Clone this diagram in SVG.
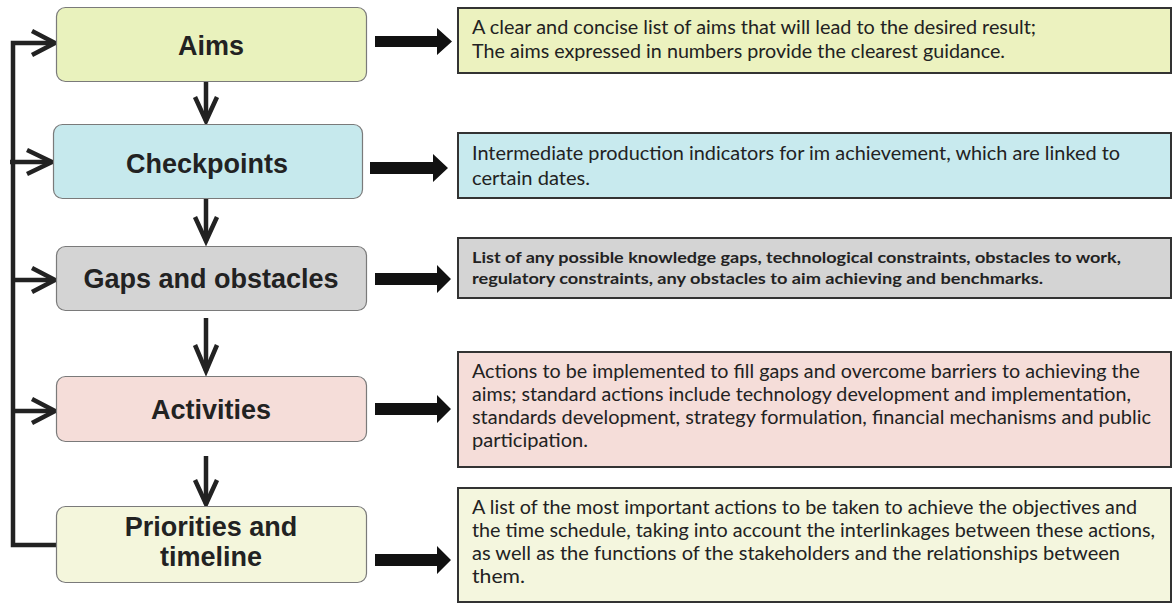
<svg xmlns="http://www.w3.org/2000/svg" width="1172" height="603" viewBox="0 0 1172 603">
<style>
.nbox{stroke:#7a7a7a;stroke-width:1.2}
.ntxt{font-family:"Liberation Sans",Arial,sans-serif;font-weight:bold;font-size:27px;fill:#222;text-anchor:middle}
.dbox{stroke:#333;stroke-width:2}
.dtxt{font-family:Lato,"Noto Sans",sans-serif;font-size:18.5px;fill:#222}
.dtxtb{font-family:Lato,"Noto Sans",sans-serif;font-size:15px;font-weight:bold;fill:#222}
.ln{fill:none;stroke:#222;stroke-width:4.5;stroke-linecap:butt;stroke-linejoin:miter}
.blk{fill:#111}
</style>
<rect width="1172" height="603" fill="#fff"/>
<g id="connectors">
  <polyline class="ln" points="56,545 13,545 13,43 53,43"/>
  <polyline class="ln" points="32,31 55,43 32,55"/>
  <line class="ln" x1="10" y1="162" x2="50" y2="162"/>
  <polyline class="ln" points="27,150 52,162 27,174"/>
  <line class="ln" x1="13" y1="280" x2="54" y2="280"/>
  <polyline class="ln" points="32,268 55,280 32,292"/>
  <line class="ln" x1="13" y1="411" x2="54" y2="411"/>
  <polyline class="ln" points="32,399 55,411 32,423"/>
  <line class="ln" x1="206" y1="82" x2="206" y2="121"/>
  <polyline class="ln" points="195,97 206,121 217,97"/>
  <line class="ln" x1="206" y1="199" x2="206" y2="241"/>
  <polyline class="ln" points="195,217 206,241 217,217"/>
  <line class="ln" x1="206" y1="318" x2="206" y2="371"/>
  <polyline class="ln" points="195,345 206,371 217,345"/>
  <line class="ln" x1="206" y1="456" x2="206" y2="504"/>
  <polyline class="ln" points="195,480 206,504 217,480"/>
  <polygon class="blk" points="375,36 437,36 437,28 452,41.5 437,55 437,47 375,47"/>
  <polygon class="blk" points="370,162 433,162 433,154 448,168 433,182 433,174 370,174"/>
  <polygon class="blk" points="375,273 437,273 437,265 451,279 437,293 437,285 375,285"/>
  <polygon class="blk" points="375,403 437,403 437,395 451,409 437,423 437,415 375,415"/>
  <polygon class="blk" points="375,554 437,554 437,546 451,560 437,574 437,566 375,566"/>
</g>
<g id="aims">
  <rect class="nbox" x="56.5" y="7.5" width="310" height="74" rx="9" fill="#e9f2bd"/>
  <text class="ntxt" x="211" y="55">Aims</text>
</g>
<g id="checkpoints">
  <rect class="nbox" x="53.5" y="124.5" width="309" height="74" rx="9" fill="#c6e9ed"/>
  <text class="ntxt" x="207" y="173">Checkpoints</text>
</g>
<g id="gaps">
  <rect class="nbox" x="56.5" y="246.5" width="310" height="64" rx="9" fill="#d4d4d4"/>
  <text class="ntxt" x="211" y="288">Gaps and obstacles</text>
</g>
<g id="activities">
  <rect class="nbox" x="56.5" y="376.5" width="310" height="65" rx="9" fill="#f5ddd9"/>
  <text class="ntxt" x="211" y="419">Activities</text>
</g>
<g id="priorities">
  <rect class="nbox" x="56.5" y="506.5" width="310" height="76" rx="9" fill="#f4f6dc"/>
  <text class="ntxt" x="211" y="536">Priorities and</text>
  <text class="ntxt" x="211" y="566">timeline</text>
</g>
<g id="desc-aims">
  <rect class="dbox" x="458" y="8" width="713" height="65" fill="#ecf2bf"/>
  <text class="dtxt" x="472" y="34" textLength="564" lengthAdjust="spacingAndGlyphs">A clear and concise list of aims that will lead to the desired result;</text>
  <text class="dtxt" x="472" y="58" textLength="533" lengthAdjust="spacingAndGlyphs">The aims expressed in numbers provide the clearest guidance.</text>
</g>
<g id="desc-checkpoints">
  <rect class="dbox" x="458" y="133" width="713" height="65" fill="#c8eaee"/>
  <text class="dtxt" x="472" y="160" textLength="648" lengthAdjust="spacingAndGlyphs">Intermediate production indicators for im achievement, which are linked to</text>
  <text class="dtxt" x="472" y="185" textLength="118" lengthAdjust="spacingAndGlyphs">certain dates.</text>
</g>
<g id="desc-gaps">
  <rect class="dbox" x="458" y="238" width="713" height="60" fill="#d4d4d4"/>
  <text class="dtxtb" x="472" y="263" textLength="649" lengthAdjust="spacingAndGlyphs">List of any possible knowledge gaps, technological  constraints, obstacles to work,</text>
  <text class="dtxtb" x="472" y="284" textLength="571" lengthAdjust="spacingAndGlyphs">regulatory constraints, any obstacles to aim achieving and benchmarks.</text>
</g>
<g id="desc-activities">
  <rect class="dbox" x="458" y="352" width="713" height="115" fill="#f5ddd9"/>
  <text class="dtxt" x="472" y="378" textLength="668" lengthAdjust="spacingAndGlyphs">Actions to be implemented to fill gaps and overcome barriers to achieving the</text>
  <text class="dtxt" x="472" y="401" textLength="659" lengthAdjust="spacingAndGlyphs">aims; standard actions include technology development and implementation,</text>
  <text class="dtxt" x="472" y="424" textLength="679" lengthAdjust="spacingAndGlyphs">standards development, strategy formulation, financial mechanisms and public</text>
  <text class="dtxt" x="472" y="447" textLength="116" lengthAdjust="spacingAndGlyphs">participation.</text>
</g>
<g id="desc-priorities">
  <rect class="dbox" x="458" y="488" width="713" height="114" fill="#f4f6de"/>
  <text class="dtxt" x="472" y="514" textLength="665" lengthAdjust="spacingAndGlyphs">A list of the most important actions to be taken to achieve the objectives and</text>
  <text class="dtxt" x="472" y="537" textLength="683" lengthAdjust="spacingAndGlyphs">the time schedule, taking into account the interlinkages between these actions,</text>
  <text class="dtxt" x="472" y="560" textLength="648" lengthAdjust="spacingAndGlyphs">as well as the functions of the stakeholders and the relationships between</text>
  <text class="dtxt" x="472" y="583" textLength="53" lengthAdjust="spacingAndGlyphs">them.</text>
</g>
</svg>
